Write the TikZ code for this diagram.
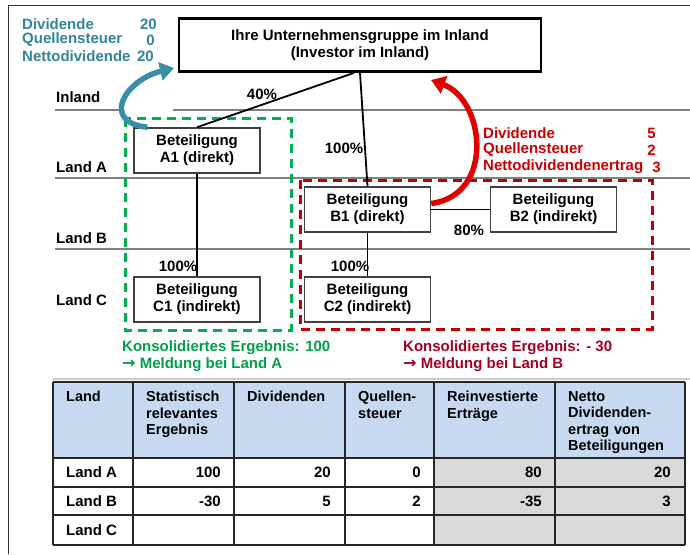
\documentclass[tikz,border=0pt]{standalone}
\usepackage{fontspec}
\setmainfont{Liberation Sans}
\newfontfamily\arrowfont{DejaVu Sans}
\usetikzlibrary{arrows.meta}

\definecolor{divblue}{HTML}{31849B}
\definecolor{arrowblue}{HTML}{3A8DA8}
\definecolor{divred}{HTML}{CC0000}
\definecolor{arrowred}{HTML}{E00000}
\definecolor{darkred}{HTML}{A50021}
\definecolor{boxred}{HTML}{C00000}
\definecolor{boxgreen}{HTML}{00B050}
\definecolor{textgreen}{HTML}{00A04A}
\definecolor{headblue}{HTML}{C6D9F1}
\definecolor{cellgray}{HTML}{D9D9D9}

\begin{document}
\begin{tikzpicture}[x=1pt,y=-1pt,
  every node/.style={font=\fontsize{15}{17}\selectfont\bfseries,inner sep=0pt},
  rule/.style={color=black!50,line width=1.3pt},
  grid/.style={color=black!85,line width=1.2pt},
  link/.style={line width=1.8pt},
  beteiligung/.style={draw=black!75,fill=white,line width=1.5pt,minimum width=126pt,minimum height=45pt,align=center},
  head/.style={anchor=north west,align=left,font=\fontsize{14.5}{16.5}\selectfont\bfseries},
  divarrow/.style={line width=5.5pt,-{Triangle[width=18pt,length=14pt]}}]
  \useasboundingbox (0,0) rectangle (690,554);

  \draw[line width=1pt,color=black!80] (8,554) -- (8,5) -- (690,5);

  \draw[rule] (55,110) -- (120,110);
  \draw[rule] (173,110) -- (690,110);
  \foreach \y in {178,249} \draw[rule] (55,\y) -- (690,\y);
  \draw[rule,color=black!20] (53,379) -- (690,379);

  \node[anchor=west] (inland) at (56,97) {Inland};
  \node[anchor=west] (landa) at (56,167) {Land A};
  \node[anchor=west] (landb) at (56,238) {Land B};
  \node[anchor=west] (landc) at (56,300) {Land C};

  \draw[boxgreen,line width=3pt,dash pattern=on 9pt off 6pt] (125,118) rectangle (291,330);
  \draw[boxred,line width=3pt,dash pattern=on 9pt off 6pt] (300,180) rectangle (652,329);

  \node[draw,line width=2.8pt,fill=white,minimum width=362pt,minimum height=53pt,align=center] (gruppe) at (360,45) {Ihre Unternehmensgruppe im Inland\\(Investor im Inland)};

  \node[beteiligung] (a1) at (197,150.5) {Beteiligung\\A1 (direkt)};
  \node[beteiligung] (b1) at (367.5,209.5) {Beteiligung\\B1 (direkt)};
  \node[beteiligung] (b2) at (553.5,209.5) {Beteiligung\\B2 (indirekt)};
  \node[beteiligung] (c1) at (197,299.5) {Beteiligung\\C1 (indirekt)};
  \node[beteiligung] (c2) at (367.5,299.5) {Beteiligung\\C2 (indirekt)};

  \draw[link] ([xshift=-6pt]gruppe.south) -- (a1.north);
  \draw[link] (gruppe.south) -- (b1.north);
  \draw[link] (a1.south) -- (c1.north);
  \draw[link] (b1.south) -- (c2.north);
  \draw[link] (b1.east) -- (b2.west);

  \node (p40) at (262,94) {40\%};
  \node (p100b) at (344,148) {100\%};
  \node (p100c1) at (178,266) {100\%};
  \node (p100c2) at (350,266) {100\%};
  \node (p80) at (469,230) {80\%};

  \node[anchor=west,text=divblue] (bdiv) at (22,24) {Dividende};
  \node[anchor=east,text=divblue] (bdivv) at (157,24) {20};
  \node[anchor=west,text=divblue] (bqst) at (22,40) {Quellensteuer};
  \node[anchor=east,text=divblue] (bqstv) at (155,40) {0};
  \node[anchor=west,text=divblue] (bnet) at (22,56) {Nettodividende};
  \node[anchor=east,text=divblue] (bnetv) at (154,56) {20};

  \node[anchor=west,text=divred] (rdiv) at (483,133) {Dividende};
  \node[anchor=east,text=divred] (rdivv) at (656,133) {5};
  \node[anchor=west,text=divred] (rqst) at (483,150) {Quellensteuer};
  \node[anchor=east,text=divred] (rqstv) at (656,150) {2};
  \node[anchor=west,text=divred] (rnet) at (483,167) {Nettodividendenertrag};
  \node[anchor=east,text=divred] (rnetv) at (661,167) {3};

  \node[anchor=west,text=textgreen] (konsa) at (122,348) {Konsolidiertes Ergebnis: 100};
  \node[anchor=west,text=textgreen] (melda) at (122,365) {{\arrowfont\fontsize{16}{17}\selectfont →} Meldung bei Land A};
  \node[anchor=west,text=darkred] (konsb) at (403,348) {Konsolidiertes Ergebnis: - 30};
  \node[anchor=west,text=darkred] (meldb) at (403,365) {{\arrowfont\fontsize{16}{17}\selectfont →} Meldung bei Land B};

  \coordinate (blueend) at (174,68);
  \coordinate (redend) at (431,80);
  \draw[divarrow,arrowblue] ([xshift=14pt]a1.north west) .. controls (100,122) and (125,80) .. (blueend);
  \draw[divarrow,arrowred] ([yshift=6pt]b1.east) .. controls (495,195) and (485,100) .. (redend);

  \fill[headblue] (53,382) rectangle (685,458);
  \fill[cellgray] (434,458) rectangle (685,545);
  \foreach \x in {53,133,234,345,434,555,685} \draw[grid] (\x,382) -- (\x,545);
  \foreach \y in {382,458,487,515,545} \draw[grid] (53,\y) -- (685,\y);

  \node[head,text width=60pt] (hland) at (66,391) {Land};
  \node[head,text width=90pt] (hstat) at (146,391) {Statistisch\\relevantes\\Ergebnis};
  \node[head,text width=100pt] (hdiv) at (247,391) {Dividenden};
  \node[head,text width=80pt] (hqst) at (358,391) {Quellen-\\steuer};
  \node[head,text width=110pt] (hrein) at (447,391) {Reinvestierte\\Erträge};
  \node[head,text width=118pt] (hnetto) at (568,391) {Netto\\Dividenden-\\ertrag von\\Beteiligungen};

  \foreach \n/\y/\a/\b/\c/\d/\e in {A/472/100/20/0/80/20,B/501/-30/5/2/-35/3} {
    \node[anchor=west] (zeile\n) at (66,\y) {Land \n};
    \node[anchor=east] (stat\n) at (221,\y) {\a};
    \node[anchor=east] (div\n) at (331,\y) {\b};
    \node[anchor=east] (qst\n) at (421,\y) {\c};
    \node[anchor=east] (rein\n) at (542,\y) {\d};
    \node[anchor=east] (netto\n) at (671,\y) {\e};
  }
  \node[anchor=west] (zeileC) at (66,530) {Land C};
\end{tikzpicture}
\end{document}
